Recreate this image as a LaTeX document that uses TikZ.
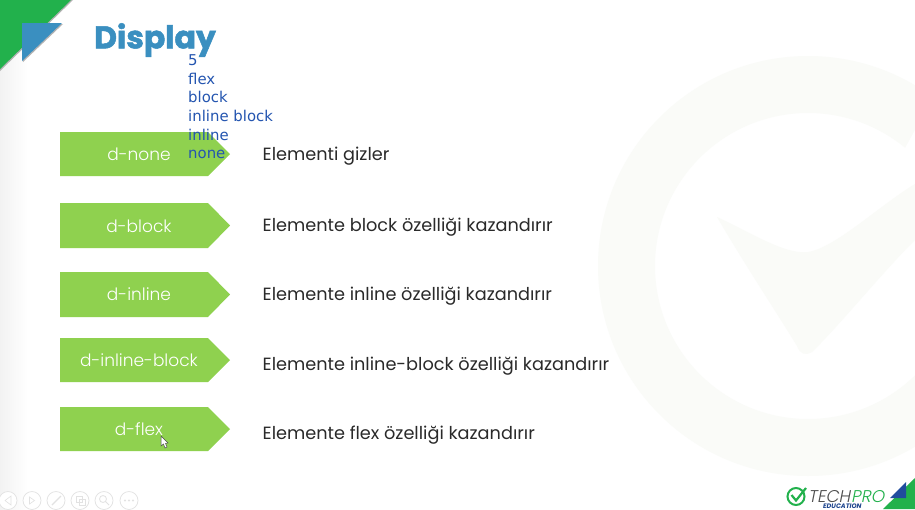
\documentclass[tikz,border=0pt]{standalone}
\usepackage{fontspec}
\setmainfont{Poppins}
\newfontfamily\djfont{DejaVu Sans}
\newfontfamily\plight{Poppins Light}
\newfontfamily\pheavy[FakeBold=1.6]{Poppins Bold}
\usetikzlibrary{shadings}
\definecolor{lime}{HTML}{8FD14F}
\definecolor{gr}{HTML}{22B14C}
\definecolor{bl}{HTML}{3A8FC0}
\definecolor{listblue}{HTML}{2455B0}
\definecolor{wm}{HTML}{FAFBF8}
\definecolor{txt}{HTML}{2A2A2A}
\definecolor{ctl}{HTML}{E2E2E2}
\tikzset{
 x=1pt,y=-1pt,
 tag/.style={fill=lime},
 taglabel/.style={text=white,font=\plight\fontsize{17}{18}\selectfont,inner sep=0pt,anchor=center},
 desc/.style={text=txt,font=\fontsize{17.7}{19}\selectfont,inner sep=0pt,anchor=base west},
 listitem/.style={text=listblue,font=\djfont\fontsize{14.9}{16}\selectfont,inner sep=0pt,anchor=base west},
 ctlbtn/.style={circle,draw=ctl,line width=.7pt,minimum size=18pt,inner sep=0pt,fill=white},
}
\newcommand{\tagrow}[7]{%
 \fill[tag] (60,#2) -- (208,#2) -- (230,{(#2+#3)/2}) -- (208,#3) -- (60,#3) -- cycle;
 \node[taglabel] (#1l) at (139,#4) {#5};
 \node[desc] (#1d) at (262.500,#6+6) {#7};
}
\begin{document}
\begin{tikzpicture}
\useasboundingbox (0,0) rectangle (915,509);
\fill[white] (0,0) rectangle (915,509);
\shade[left color=black!5,right color=white] (0,0) rectangle (28,509);
% watermark
\begin{scope}
\clip (0,0) rectangle (915,509);
\fill[wm,even odd rule] (808,266) circle[radius=210] (808,266) circle[radius=153];
\fill[white] (840,266) -- (915,130) -- (915,300) -- cycle;
\fill[wm] (717,217) .. controls (750,232) and (785,255) .. (808,252)
  .. controls (835,248) and (880,205) .. (915,184) -- (915,240)
  .. controls (880,275) and (840,325) .. (812,352)
  .. controls (805,356) and (800,354) .. (797,346)
  .. controls (775,310) and (745,265) .. (717,217) -- cycle;
\end{scope}
% corner
\fill[black!30] (0,71) -- (73,0) -- (0,0) -- cycle;
\fill[gr] (0,69) -- (71,0) -- (0,0) -- cycle;
\fill[black!30] (23,62) -- (63,24) -- (22,24) -- cycle;
\fill[bl] (22,61) -- (62,23) -- (22,23) -- cycle;
% title
\node[text=bl,font=\pheavy\fontsize{31.5}{34}\selectfont,inner sep=0pt,anchor=center] (title) at (155,40) {Display};
% rows
\tagrow{a}{132}{176}{154}{d-none}{154}{Elementi gizler}
\tagrow{b}{203}{248}{226}{d-block}{225}{Elemente block özelliği kazandırır}
\tagrow{c}{272}{317}{294}{d-inline}{294}{Elemente inline özelliği kazandırır}
\tagrow{d}{338}{382}{360}{d-inline-block}{364}{Elemente inline-block özelliği kazandırır}
\tagrow{e}{407}{451}{429}{d-flex}{433}{Elemente flex özelliği kazandırır}
% list
\node[listitem] (l5) at (188,65) {5};
\node[listitem] (l4) at (188,84) {flex};
\node[listitem] (l3) at (188,102.500) {block};
\node[listitem] (l2) at (188,121) {inline block};
\node[listitem] (l1) at (188,140) {inline};
\node[listitem] (l0) at (188,158.500) {none};
% cursor
\fill[white,draw=black!70,line width=.5pt] (161,436) -- (161,446) -- (163.500,444) -- (165,448) -- (167,447) -- (165.500,443.500) -- (168,443) -- cycle;
% controls
\node[ctlbtn] (c1) at (8,500.500) {};
\node[ctlbtn] (c2) at (32,500.500) {};
\node[ctlbtn] (c3) at (56,500.500) {};
\node[ctlbtn] (c4) at (80,500.500) {};
\node[ctlbtn] (c5) at (104,500.500) {};
\node[ctlbtn] (c6) at (129,500.500) {};
\draw[ctl,line width=.6pt] (11,496) -- (5,500.500) -- (11,505) -- cycle;
\draw[ctl,line width=.6pt] (29.500,497) -- (34.500,500.500) -- (29.500,504) -- cycle;
\draw[ctl,line width=1.2pt] (52,505) -- (61,496);
\draw[ctl,line width=.8pt] (76,496) rectangle (82,502) (79,499) rectangle (85,505);
\draw[ctl,line width=.8pt] (103,499) circle[radius=3.500] (105.500,501.500) -- (109,505);
\fill[ctl] (125,500.500) circle[radius=1.200] (129,500.500) circle[radius=1.200] (133,500.500) circle[radius=1.200];
% logo
\fill[gr] (883,509) -- (915,478) -- (915,509) -- cycle;
\fill[listblue!90!black] (890,498) -- (906,482) -- (906,498) -- cycle;
\draw[gr,line width=2pt] (796,496.500) circle[radius=8.500];
\draw[gr,line width=2.200pt] (791.500,495) -- (796,500.500) -- (806,488);
\node[text=black!70,font=\plight\fontsize{17}{18}\selectfont,inner sep=0pt,anchor=base west,xslant=.2] (logoa) at (808,502) {TECH};
\node[text=gr,font=\plight\fontsize{17}{18}\selectfont,inner sep=0pt,anchor=base west,xslant=.2] (logob) at (851,502) {PRO};
\node[text=listblue!80!black,font=\fontsize{6.500}{7}\selectfont\bfseries\itshape,inner sep=0pt,anchor=base west] (logoc) at (823,508) {EDUCATION};
\end{tikzpicture}
\end{document}
